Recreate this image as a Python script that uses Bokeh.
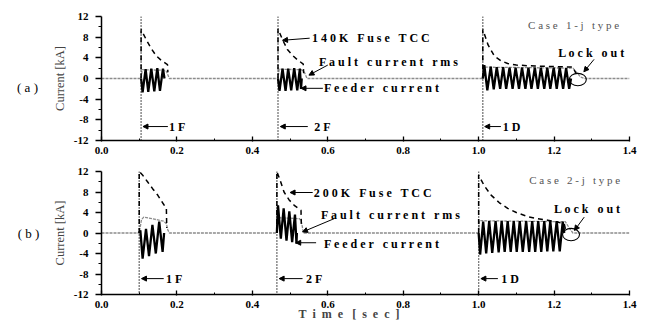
from bokeh.plotting import figure
from bokeh.layouts import column, row
from bokeh.models import Span, Label, Arrow, NormalHead, FixedTicker, Range1d, PrintfTickFormatter
from bokeh.core.properties import value
from bokeh.embed import file_html
from bokeh.resources import INLINE

# ---------------- axes ----------------
x_ticks = [0.0, 0.2, 0.4, 0.6, 0.8, 1.0, 1.2, 1.4]
x_minor = [0.1, 0.3, 0.5, 0.7, 0.9, 1.1, 1.3]
y_ticks = [-12, -8, -4, 0, 4, 8, 12]
y_minor = [-10, -6, -2, 2, 6, 10]

# ---------------- panel (a): Case 1 ----------------
events_a = [0.105, 0.468, 1.011]
event_names_a = ["1 F", "2 F", "1 D"]

feeder_t_a_1F = [0.105, 0.109, 0.117, 0.124, 0.132, 0.140, 0.148, 0.155, 0.163, 0.167]
feeder_a_1F = [0, -2.7, 1.8, -2.6, 1.9, -2.5, 2.0, -2.4, 1.9, 0]

feeder_t_a_2F = [0.468, 0.472, 0.480, 0.488, 0.495, 0.503, 0.511, 0.519, 0.526, 0.529, 0.531]
feeder_a_2F = [0, -2.4, 1.9, -2.4, 1.9, -2.3, 2.0, -2.3, 1.9, -2.0, 0]

feeder_t_a_1D = [1.011, 1.015, 1.023, 1.032, 1.040, 1.048, 1.057, 1.065, 1.073, 1.082, 1.090,
                 1.098, 1.107, 1.115, 1.124, 1.132, 1.140, 1.149, 1.157, 1.165, 1.174,
                 1.182, 1.190, 1.199, 1.207, 1.215, 1.224, 1.232, 1.240, 1.245]
feeder_a_1D = [0, 2.6, -2.3, 2.3, -2.1, 2.2, -2.0, 2.2, -2.0, 2.1, -2.0,
               2.1, -2.0, 2.1, -2.0, 2.1, -2.0, 2.1, -2.0, 2.1, -2.0,
               2.1, -2.0, 2.1, -2.0, 2.1, -2.0, 2.0, -2.0, 0]

tcc_t_a_1F = [0.105, 0.105, 0.118, 0.131, 0.145, 0.160, 0.175, 0.176]
tcc_a_1F = [0, 9.5, 7.6, 5.9, 4.4, 3.4, 2.7, 1.2]
tcc_t_a_2F = [0.468, 0.468, 0.480, 0.493, 0.506, 0.520, 0.535, 0.536]
tcc_a_2F = [0, 9.6, 7.5, 5.6, 4.5, 3.6, 2.8, 1.0]
tcc_t_a_1D = [1.011, 1.011, 1.025, 1.042, 1.060, 1.077, 1.100, 1.150, 1.200, 1.250, 1.258]
tcc_a_1D = [0, 9.5, 6.5, 4.3, 3.4, 2.9, 2.6, 2.4, 2.3, 2.2, 1.0]

rms_t_a = [0.0, 0.105, 0.108, 0.165, 0.172, 0.180, 0.468, 0.471, 0.530, 0.538, 0.545,
           1.011, 1.013, 1.250, 1.270, 1.280, 1.4]
rms_a = [0, 0, 1.7, 1.6, 1.4, 0, 0, 1.8, 1.7, 1.2, 0, 0, 2.2, 2.0, 0.3, 0, 0]

lockout_a = (1.263, -0.2)

# ---------------- panel (b): Case 2 ----------------
events_b = [0.100, 0.465, 1.000]
event_names_b = ["1 F", "2 F", "1 D"]

feeder_t_b_1F = [0.100, 0.103, 0.109, 0.118, 0.126, 0.135, 0.144, 0.153, 0.162, 0.166]
feeder_b_1F = [0, 0.5, -5.0, 0.8, -4.5, 1.6, -4.0, 2.2, -3.7, 0]

feeder_t_b_2F = [0.465, 0.468, 0.4755, 0.483, 0.4905, 0.498, 0.5055, 0.513, 0.517, 0.518]
feeder_b_2F = [0, 5.4, -1.1, 4.8, -1.5, 4.2, -1.8, 3.6, -2.1, 0]

feeder_t_b_1D = [1.000, 1.004, 1.012, 1.020, 1.028, 1.036, 1.045, 1.053, 1.061, 1.069, 1.077,
                 1.085, 1.093, 1.101, 1.109, 1.117, 1.126, 1.134, 1.142, 1.150, 1.158,
                 1.166, 1.174, 1.182, 1.190, 1.198, 1.207, 1.215, 1.223, 1.227]
feeder_b_1D = [0, -4.2, 2.2, -4.0, 2.3, -3.9, 2.3, -3.8, 2.3, -3.7, 2.3,
               -3.7, 2.3, -3.7, 2.3, -3.7, 2.3, -3.7, 2.3, -3.7, 2.3,
               -3.7, 2.3, -3.6, 2.3, -3.6, 2.3, -3.6, 2.2, 0]

tcc_t_b_1F = [0.100, 0.100, 0.110, 0.122, 0.135, 0.149, 0.162, 0.172, 0.173]
tcc_b_1F = [0, 12, 11.2, 10.0, 8.7, 7.4, 5.9, 4.8, 1.0]
tcc_t_b_2F = [0.465, 0.465, 0.475, 0.484, 0.497, 0.511, 0.529, 0.530]
tcc_b_2F = [0, 12, 10.0, 8.0, 6.5, 5.4, 4.4, 1.0]
tcc_t_b_1D = [1.000, 1.000, 1.015, 1.033, 1.055, 1.077, 1.100, 1.130, 1.155, 1.183, 1.205, 1.227, 1.230]
tcc_b_1D = [0, 11.3, 9.2, 7.4, 5.9, 4.8, 4.0, 3.2, 2.8, 2.5, 2.2, 1.8, 0.8]

rms_t_b = [0.0, 0.100, 0.106, 0.112, 0.140, 0.165, 0.172, 0.176, 0.180, 0.465, 0.468,
           0.525, 0.530, 0.534, 0.537, 1.000, 1.002, 1.230, 1.240, 1.250, 1.4]
rms_b = [0, 0, 2.6, 3.1, 2.7, 2.3, 1.8, 0.6, 0, 0, 3.0, 2.8, 2.2, 0.6, 0, 0, 2.4, 2.2, 1.0, 0, 0]

lockout_b = (1.245, -0.3)

panel_names = ["( a )", "( b )"]

SERIF = "Liberation Serif"
GAP = " \u00a0 "   # word gap that SVG will not collapse


def spaced(s, sep=" "):
    return GAP.join(sep.join(list(w)) for w in s.split(" "))


def txt(p, x, y, text, size="12px", color="black", style="bold", align="left"):
    p.add_layout(Label(x=x, y=y, text=text, text_font=SERIF, text_font_size=size,
                       text_color=color, text_font_style=style, text_align=align,
                       text_baseline="middle"))


def arrow(p, x0, y0, x1, y1):
    p.add_layout(Arrow(end=NormalHead(size=5, fill_color="black", line_color="black"),
                       x_start=x0, y_start=y0, x_end=x1, y_end=y1,
                       line_color="black", line_width=1))


def make_panel(height, top, bottom, events, feeders, tccs, rms_t, rms_v, lockout):
    p = figure(width=609, height=height, x_range=Range1d(0, 1.4), y_range=Range1d(-12, 12),
               output_backend="svg", toolbar_location=None,
               min_border_left=56, min_border_right=25, min_border_top=top, min_border_bottom=bottom)
    p.outline_line_color = None
    p.grid.visible = False
    for ax in (p.xaxis[0], p.yaxis[0]):
        ax.axis_line_width = 1.5
        ax.axis_line_color = "black"
        ax.major_tick_line_width = 1.3
        ax.minor_tick_line_width = 1.0
        ax.major_label_text_font = SERIF
        ax.major_label_text_font_style = "bold"
        ax.major_label_text_font_size = "11px"
        ax.major_label_text_color = "black"
    p.yaxis.major_tick_in = 0
    p.yaxis.major_tick_out = 6
    p.yaxis.minor_tick_in = 0
    p.yaxis.minor_tick_out = 3
    p.xaxis.major_tick_in = 4
    p.xaxis.major_tick_out = 1
    p.xaxis.minor_tick_in = 2
    p.xaxis.minor_tick_out = 0
    p.xaxis.ticker = FixedTicker(ticks=x_ticks, minor_ticks=x_minor)
    p.yaxis.ticker = FixedTicker(ticks=y_ticks, minor_ticks=y_minor)
    p.xaxis.formatter = PrintfTickFormatter(format="%.1f")
    p.yaxis.formatter = PrintfTickFormatter(format="%d")
    p.xaxis.major_label_standoff = 5
    p.yaxis.major_label_standoff = 7
    p.yaxis.axis_label = "Current [kA]"
    p.yaxis.axis_label_text_font = SERIF
    p.yaxis.axis_label_text_font_style = "normal"
    p.yaxis.axis_label_text_font_size = "12.5px"
    p.yaxis.axis_label_standoff = 4

    for e in events:
        p.add_layout(Span(location=e, dimension="height", line_color="black",
                          line_dash="1 2", line_width=1.4))
    p.line(rms_t, rms_v, line_color="#8c8c8c", line_width=1.3, line_dash="3 1")
    for t, v in tccs:
        p.line(t, v, line_color="black", line_width=1.5, line_dash="5 4")
    for t, v in feeders:
        p.line(t, v, line_color="black", line_width=2.3)
    p.ellipse(x=[lockout[0]], y=[lockout[1]], width=0.045, height=2.4,
              fill_color=None, line_color="black", line_width=1.1)
    return p


pa = make_panel(162, 16, 22, events_a,
                [(feeder_t_a_1F, feeder_a_1F), (feeder_t_a_2F, feeder_a_2F), (feeder_t_a_1D, feeder_a_1D)],
                [(tcc_t_a_1F, tcc_a_1F), (tcc_t_a_2F, tcc_a_2F), (tcc_t_a_1D, tcc_a_1D)],
                rms_t_a, rms_a, lockout_a)
pb = make_panel(163, 9, 31, events_b,
                [(feeder_t_b_1F, feeder_b_1F), (feeder_t_b_2F, feeder_b_2F), (feeder_t_b_1D, feeder_b_1D)],
                [(tcc_t_b_1F, tcc_b_1F), (tcc_t_b_2F, tcc_b_2F), (tcc_t_b_1D, tcc_b_1D)],
                rms_t_b, rms_b, lockout_b)

# x-axis title; trailing no-break spaces pull its visible centre left of the frame centre
pb.xaxis.axis_label = spaced("Time [sec]", "\u00a0 ") + "\u00a0" * 11
pb.xaxis.axis_label_text_font = SERIF
pb.xaxis.axis_label_text_font_style = "bold"
pb.xaxis.axis_label_text_font_size = "12px"
pb.xaxis.axis_label_standoff = -4

# ---- annotations panel (a)
txt(pa, 0.558, 7.8, spaced("140K Fuse TCC"))
arrow(pa, 0.552, 7.8, 0.480, 7.4)
txt(pa, 0.577, 3.2, spaced("Fault current rms"))
arrow(pa, 0.600, 2.6, 0.550, 0.65)
txt(pa, 0.590, -1.9, spaced("Feeder current"))
arrow(pa, 0.587, -1.9, 0.529, -1.9)
txt(pa, 1.131, 10.35, spaced("Case 1-j type"), color="#555555", style="normal", size="11px")
txt(pa, 1.211, 4.9, spaced("Lock out"))
arrow(pa, 1.306, 3.7, 1.279, 1.3)
ev_text_a = [0.179, 0.564, 1.064]
ev_arrow_a = [(0.176, 0.110), (0.547, 0.474), (1.059, 1.016)]
for name, tx, (a0, a1) in zip(event_names_a, ev_text_a, ev_arrow_a):
    txt(pa, tx, -9.3, name)
    arrow(pa, a0, -9.3, a1, -9.3)

# ---- annotations panel (b)
txt(pb, 0.563, 7.9, spaced("200K Fuse TCC"))
arrow(pb, 0.560, 7.9, 0.500, 7.9)
txt(pb, 0.582, 3.45, spaced("Fault current rms"))
arrow(pb, 0.617, 2.8, 0.533, 0.2)
txt(pb, 0.590, -2.1, spaced("Feeder current"))
arrow(pb, 0.569, -1.9, 0.515, -1.9)
txt(pb, 1.134, 10.3, spaced("Case 2-j type"), color="#555555", style="normal", size="11px")
txt(pb, 1.200, 4.75, spaced("Lock out"))
arrow(pb, 1.280, 3.1, 1.254, 0.5)
ev_text_b = [0.171, 0.542, 1.060]
ev_arrow_b = [(0.165, 0.106), (0.533, 0.471), (1.051, 1.006)]
for name, tx, (a0, a1) in zip(event_names_b, ev_text_b, ev_arrow_b):
    txt(pb, tx, -8.9, name)
    arrow(pb, a0, -8.9, a1, -8.9)

# ---- side strip holding the panel tags "(a)" / "(b)"
side = figure(width=45, height=325, x_range=Range1d(0, 45), y_range=Range1d(325, 0),
              output_backend="svg", toolbar_location=None,
              min_border_left=0, min_border_right=0, min_border_top=0, min_border_bottom=0)
side.axis.visible = False
side.grid.visible = False
side.outline_line_color = None
side.text(x=[27, 28], y=[87, 233], text=panel_names, text_font=value(SERIF),
          text_font_size="13px", text_align="center", text_baseline="middle", text_color="black")

layout = row(side, column(pa, pb))
open("out.html", "w").write(file_html(layout, INLINE))
